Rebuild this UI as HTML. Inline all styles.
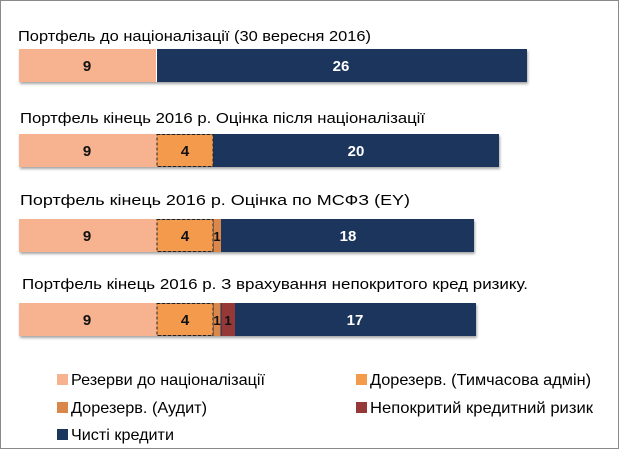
<!DOCTYPE html>
<html><head><meta charset="utf-8"><style>
html,body{margin:0;padding:0;background:#fff}
svg{display:block}
text{font-family:"Liberation Sans",sans-serif}
</style></head><body>
<svg width="619" height="449" viewBox="0 0 619 449" xmlns="http://www.w3.org/2000/svg">
<rect x="0.5" y="0.5" width="618" height="448" fill="#fff" stroke="#8a8a8a"/>
<defs><filter id="sh" x="-5%" y="-20%" width="110%" height="150%"><feDropShadow dx="1" dy="2" stdDeviation="1.2" flood-color="#000" flood-opacity="0.35"/></filter></defs>
<g font-size="15" fill="#000">
<text x="18" y="41" textLength="353" lengthAdjust="spacingAndGlyphs">Портфель до націоналізації (30 вересня 2016)</text>
<text x="20" y="123" textLength="405" lengthAdjust="spacingAndGlyphs">Портфель кінець 2016 р. Оцінка після націоналізації</text>
<text x="20" y="205" textLength="390" lengthAdjust="spacingAndGlyphs">Портфель кінець 2016 р. Оцінка по МСФЗ (EY)</text>
<text x="22" y="289" textLength="506" lengthAdjust="spacingAndGlyphs">Портфель кінець 2016 р. З врахування непокритого кред ризику.</text>
</g>
<g filter="url(#sh)">
<rect x="19" y="49" width="508" height="33" fill="#1b365d"/>
<rect x="19" y="134" width="480" height="33" fill="#1b365d"/>
<rect x="19" y="219" width="455" height="33" fill="#1b365d"/>
<rect x="19" y="303" width="457" height="33" fill="#1b365d"/>
</g>
<rect x="19" y="49" width="137" height="33" fill="#f7b38f"/>
<line x1="156.5" y1="49" x2="156.5" y2="82" stroke="#fff"/>
<rect x="19" y="134" width="138" height="33" fill="#f7b38f"/>
<rect x="157" y="134.5" width="56" height="32" fill="#f39a4d" stroke="#222" stroke-dasharray="3,2"/>
<rect x="19" y="219" width="138" height="33" fill="#f7b38f"/>
<rect x="157" y="219.5" width="56" height="32" fill="#f39a4d" stroke="#222" stroke-dasharray="3,2"/>
<rect x="213.5" y="219" width="7.5" height="33" fill="#d9874a"/>
<rect x="19" y="303" width="138" height="33" fill="#f7b38f"/>
<rect x="157" y="303.5" width="56" height="32" fill="#f39a4d" stroke="#222" stroke-dasharray="3,2"/>
<rect x="213.5" y="303" width="7" height="33" fill="#d9874a"/>
<rect x="221.5" y="303" width="13.5" height="33" fill="#943838"/>
<g font-size="15" font-weight="bold" text-anchor="middle">
<text x="87" y="71" fill="#111">9</text><text x="341" y="71" fill="#fff">26</text>
<text x="87" y="156" fill="#111">9</text><text x="185" y="156" fill="#111">4</text><text x="356" y="156" fill="#fff">20</text>
<text x="87" y="241" fill="#111">9</text><text x="185" y="241" fill="#111">4</text><text x="217" y="241" fill="#111" font-size="13">1</text><text x="348" y="241" fill="#fff">18</text>
<text x="87" y="325" fill="#111">9</text><text x="185" y="325" fill="#111">4</text><text x="217" y="325" fill="#111" font-size="13">1</text><text x="228" y="325" fill="#111" font-size="13">1</text><text x="355" y="325" fill="#fff">17</text>
</g>
<rect x="57" y="374" width="11" height="11" fill="#f7b38f"/>
<rect x="356" y="374" width="11" height="11" fill="#f39a4d"/>
<rect x="57" y="402" width="11" height="11" fill="#d9874a"/>
<rect x="356" y="402" width="11" height="11" fill="#943838"/>
<rect x="57" y="429" width="11" height="11" fill="#1b365d"/>
<g font-size="16" fill="#000">
<text x="71" y="385" textLength="194" lengthAdjust="spacingAndGlyphs">Резерви до націоналізації</text>
<text x="370" y="385" textLength="221" lengthAdjust="spacingAndGlyphs">Дорезерв. (Тимчасова адмін)</text>
<text x="71" y="413" textLength="136" lengthAdjust="spacingAndGlyphs">Дорезерв. (Аудит)</text>
<text x="370" y="413" textLength="223" lengthAdjust="spacingAndGlyphs">Непокритий кредитний ризик</text>
<text x="71" y="440" textLength="103" lengthAdjust="spacingAndGlyphs">Чисті кредити</text>
</g>
</svg>
</body></html>
